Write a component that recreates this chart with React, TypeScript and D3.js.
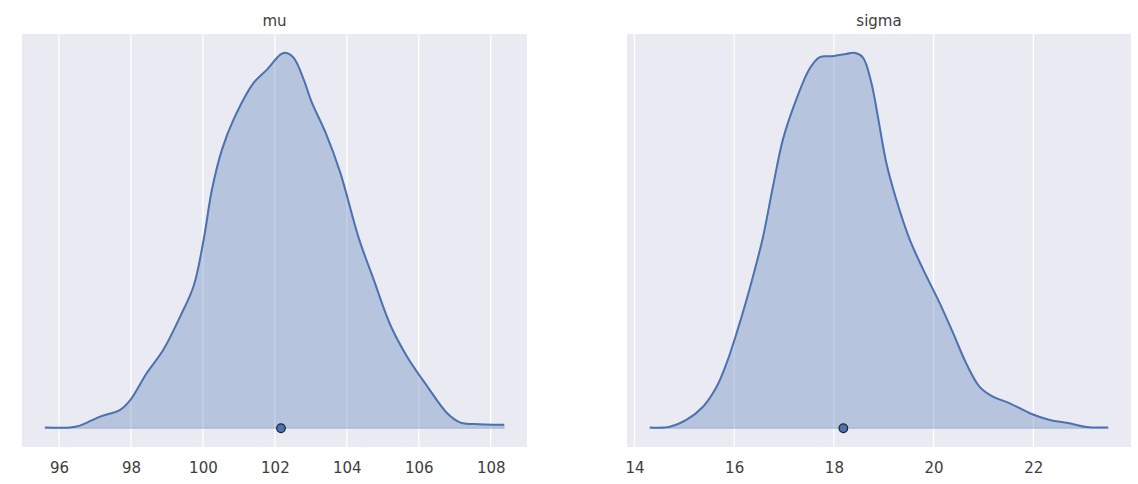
import React, { useEffect, useRef } from 'react';
import * as d3 from 'd3';

// posterior KDE (relative density, peak = 1)
const muX = [95.61, 96.31, 96.58, 97.14, 97.7, 97.98, 98.44, 98.9, 99.37, 99.74, 100.02, 100.25, 100.53, 100.85, 101.41, 101.78, 102.15, 102.29, 102.52, 102.8, 103.03, 103.41, 103.82, 104.33, 104.75, 105.21, 105.68, 106.24, 106.79, 107.16, 107.53, 108.37];
const muDensity = [0.002, 0.002, 0.007, 0.031, 0.049, 0.075, 0.147, 0.209, 0.298, 0.378, 0.502, 0.635, 0.742, 0.822, 0.92, 0.955, 0.995, 1.0, 0.987, 0.929, 0.867, 0.787, 0.68, 0.507, 0.395, 0.275, 0.19, 0.111, 0.04, 0.015, 0.011, 0.009];
const muTicks = [96, 98, 100, 102, 104, 106, 108];
const muPoint = 102.17;

const sigmaX = [14.31, 14.71, 15.04, 15.38, 15.65, 15.85, 16.05, 16.25, 16.45, 16.58, 16.78, 16.98, 17.25, 17.51, 17.71, 17.98, 18.25, 18.41, 18.58, 18.75, 18.88, 19.05, 19.25, 19.52, 19.79, 20.12, 20.39, 20.65, 20.92, 21.19, 21.52, 21.93, 22.33, 22.73, 23.07, 23.5];
const sigmaDensity = [0.002, 0.004, 0.022, 0.058, 0.111, 0.174, 0.254, 0.343, 0.441, 0.51, 0.645, 0.77, 0.877, 0.957, 0.988, 0.991, 0.997, 1.0, 0.988, 0.921, 0.832, 0.708, 0.61, 0.503, 0.423, 0.334, 0.254, 0.174, 0.111, 0.084, 0.067, 0.04, 0.022, 0.013, 0.003, 0.002];
const sigmaTicks = [14, 16, 18, 20, 22];
const sigmaPoint = 18.19;

const panels = [
  { title: 'mu', xs: muX, ds: muDensity, ticks: muTicks, point: muPoint, left: 22, right: 527 },
  { title: 'sigma', xs: sigmaX, ds: sigmaDensity, ticks: sigmaTicks, point: sigmaPoint, left: 627, right: 1131 },
];

const W = 1138;
const H = 484;
const TOP = 34;
const BOTTOM = 447;
const BLUE = '#4c72b0';
const TEXT = '#3d3d3d';

export default function App() {
  const ref = useRef<SVGSVGElement | null>(null);

  useEffect(() => {
    if (!ref.current) return;
    const svg = d3.select(ref.current);
    svg.selectAll('*').remove();

    panels.forEach(p => {
      const [lo, hi] = d3.extent(p.xs) as [number, number];
      const pad = (hi - lo) * 0.05;
      const x = d3.scaleLinear().domain([lo - pad, hi + pad]).range([p.left, p.right]);
      const maxD = d3.max(p.ds)!;
      const y = d3.scaleLinear().domain([-0.05 * maxD, 1.05 * maxD]).range([BOTTOM, TOP]);
      const pts = p.xs.map((v, i) => [v, p.ds[i]] as [number, number]);

      const g = svg.append('g');

      // background
      g.append('rect')
        .attr('x', p.left)
        .attr('y', TOP)
        .attr('width', p.right - p.left)
        .attr('height', BOTTOM - TOP)
        .attr('fill', '#eaeaf2');

      // vertical grid
      g.selectAll('line.grid')
        .data(p.ticks)
        .join('line')
        .attr('class', 'grid')
        .attr('x1', d => x(d))
        .attr('x2', d => x(d))
        .attr('y1', TOP)
        .attr('y2', BOTTOM)
        .attr('stroke', '#ffffff')
        .attr('stroke-width', 1.3);

      // filled kde
      const area = d3.area<[number, number]>()
        .x(d => x(d[0]))
        .y0(y(0))
        .y1(d => y(d[1]))
        .curve(d3.curveCatmullRom);
      g.append('path')
        .datum(pts)
        .attr('d', area)
        .attr('fill', BLUE)
        .attr('fill-opacity', 0.32)
        .attr('stroke', BLUE)
        .attr('stroke-opacity', 0.3)
        .attr('stroke-width', 1.2);

      const line = d3.line<[number, number]>()
        .x(d => x(d[0]))
        .y(d => y(d[1]))
        .curve(d3.curveCatmullRom);
      g.append('path')
        .datum(pts)
        .attr('d', line)
        .attr('fill', 'none')
        .attr('stroke', BLUE)
        .attr('stroke-width', 2);

      // point estimate
      g.append('circle')
        .attr('cx', x(p.point))
        .attr('cy', y(0))
        .attr('r', 4.3)
        .attr('fill', BLUE)
        .attr('stroke', '#1c2333')
        .attr('stroke-width', 1.2);

      // x axis labels
      const axis = d3.axisBottom(x).tickValues(p.ticks).tickSize(0).tickPadding(15).tickFormat(d3.format('d'));
      const ax = g.append('g').attr('transform', `translate(0,${BOTTOM})`).call(axis);
      ax.select('.domain').remove();
      ax.selectAll('text')
        .attr('fill', TEXT)
        .style('font-size', '15px')
        .style('font-family', '"DejaVu Sans", sans-serif');

      // title
      g.append('text')
        .attr('x', (p.left + p.right) / 2)
        .attr('y', 26)
        .attr('text-anchor', 'middle')
        .attr('fill', TEXT)
        .style('font-size', '15px')
        .style('font-family', '"DejaVu Sans", sans-serif')
        .text(p.title);
    });
  }, []);

  return (
    <div style={{ position: 'absolute', left: 0, top: 0, width: W, height: H, background: '#ffffff' }}>
      <svg ref={ref} width={W} height={H} style={{ display: 'block' }} />
    </div>
  );
}
